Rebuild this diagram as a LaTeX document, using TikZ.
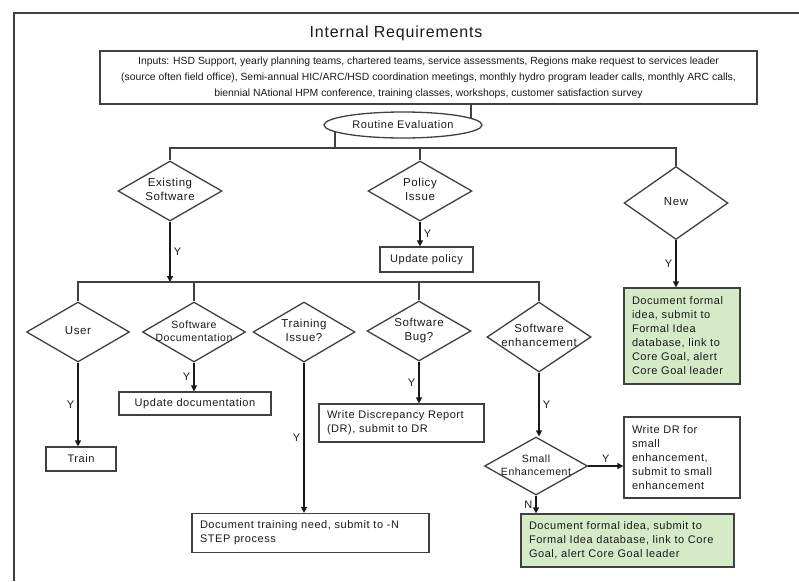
\documentclass[tikz,border=0pt]{standalone}
\usepackage{fontspec}
\setmainfont{Liberation Sans}
\newfontfamily\chartfont[LetterSpace=5]{Liberation Sans}
\usetikzlibrary{shapes.geometric,arrows.meta}
\newcommand{\dtext}[1]{\makebox[0pt]{\begin{tabular}{@{}c@{}}#1\end{tabular}}}

\begin{document}
\begin{tikzpicture}[x=1pt,y=-1pt,line width=1.3pt,draw=black!75,text=black!90,
    every node/.style={font=\chartfont\fontsize{11}{14}\selectfont},
    decision/.style={diamond,draw,inner sep=0pt,minimum width=104pt,minimum height=60pt,
      font=\chartfont\fontsize{11.5}{13.5}\selectfont},
    smalltext/.style={font=\chartfont\fontsize{10.5}{13}\selectfont},
    stepbox/.style={draw,rectangle,inner sep=0pt,align=center},
    notebox/.style={draw,rectangle,inner xsep=8pt,inner ysep=0pt,align=left},
    goalbox/.style={notebox,fill=GoalGreen},
    ylab/.style={inner sep=3pt},
    flow/.style={-{Triangle[length=6pt,width=6pt]},line width=1.6pt,draw=black!90}]
  \definecolor{GoalGreen}{RGB}{213,235,200}
  \useasboundingbox (0,0) rectangle (799,581);
  \draw (14,581) -- (14,13) -- (799,13);

  \node (title) at (396,33) {\fontsize{16}{18}\selectfont Internal Requirements};
  \node[draw,rectangle,minimum width=657pt,minimum height=53pt,inner sep=0pt,align=center,
    font=\fontsize{10.4}{16}\selectfont] (inputs) at (428.5,77.5)
    {Inputs: HSD Support, yearly planning teams, chartered teams, service assessments, Regions make request to services leader\\
     (source often field office), Semi-annual HIC/ARC/HSD coordination meetings, monthly hydro program leader calls, monthly ARC calls,\\
     biennial NAtional HPM conference, training classes, workshops, customer satisfaction survey};
  \node[ellipse,draw,minimum width=158pt,minimum height=26pt,inner sep=0pt] (routine) at (403,125) {Routine Evaluation};

  % first level
  \node[decision] (existing) at (170,191) {\dtext{Existing\\Software}};
  \node[decision] (policy) at (420,191) {\dtext{Policy\\Issue}};
  \node[decision,minimum height=73pt] (new) at (676,203) {\dtext{New}};
  \node[stepbox,minimum width=93pt,minimum height=25pt] (updpolicy) at (426.5,259.5) {Update policy};
  \node[goalbox,text width=100pt,minimum height=96pt] (newidea) at (682,336)
    {Document formal\\idea, submit to\\Formal Idea\\database, link to\\Core Goal, alert\\Core Goal leader};

  % second level
  \node[decision,minimum width=103pt] (user) at (78,332) {\dtext{User}};
  \node[decision,minimum width=103pt,smalltext] (softdoc) at (194,332) {\dtext{Software\\Documentation}};
  \node[decision,minimum width=102pt] (training) at (304,332) {\dtext{Training\\Issue?}};
  \node[decision] (bug) at (419,331) {\dtext{Software\\Bug?}};
  \node[decision,minimum height=70pt] (enhance) at (539,337) {\dtext{Software\\enhancement}};

  \node[stepbox,minimum width=70pt,minimum height=24pt] (train) at (81,459) {Train};
  \node[stepbox,minimum width=152pt,minimum height=23pt] (upddoc) at (195,403.5) {Update documentation};
  \node[notebox,text width=221pt,minimum height=39pt] (trainneed) at (310.5,533)
    {Document training need, submit to -N\\STEP process};
  \node[notebox,text width=149pt,minimum height=38pt] (writedr) at (401.5,423)
    {Write Discrepancy Report\\(DR), submit to DR};
  \node[decision,minimum width=103pt,minimum height=58pt,smalltext] (small) at (536,466) {\dtext{Small\\Enhancement}};
  \node[notebox,text width=100pt,minimum height=81pt] (drsmall) at (682,457.5)
    {Write DR for\\small\\enhancement,\\submit to small\\enhancement};
  \node[goalbox,text width=197pt,minimum height=53pt] (newidea2) at (627.5,540.5)
    {Document formal idea, submit to\\Formal Idea database, link to Core\\Goal, alert Core Goal leader};

  % connectors
  \coordinate (bus1) at (0,148);
  \coordinate (bus2) at (0,282);
  \draw (routine.6) -- (routine.6 |- inputs.south);
  \draw (routine.-174) -- (routine.-174 |- bus1);
  \draw (existing.north) -- (existing.north |- bus1) -- (new.north |- bus1) -- (new.north);
  \draw (policy.north) -- (policy.north |- bus1);
  \draw[flow] (existing.south) -- (existing.south |- bus2) node[ylab,midway,right] (y1) {Y};
  \draw[flow] (policy.south) -- (policy.south |- updpolicy.north) node[ylab,midway,right] (y2) {Y};
  \draw[flow] (new.south) -- (new.south |- newidea.north) node[ylab,midway,left] (y3) {Y};
  \draw (user.north) -- (user.north |- bus2) -- (enhance.north |- bus2) -- (enhance.north);
  \draw (softdoc.north) -- (softdoc.north |- bus2);
  \draw (bug.north) -- (bug.north |- bus2);
  \draw[flow] (user.south) -- (user.south |- train.north) node[ylab,midway,left] (y4) {Y};
  \draw[flow] (softdoc.south) -- (softdoc.south |- upddoc.north) node[ylab,midway,left] (y5) {Y};
  \draw[flow] (training.south) -- (training.south |- trainneed.north) node[ylab,midway,left] (y6) {Y};
  \draw[flow] (bug.south) -- (bug.south |- writedr.north) node[ylab,midway,left] (y7) {Y};
  \draw[flow] (enhance.south) -- (enhance.south |- small.north) node[ylab,midway,right] (y8) {Y};
  \draw[flow] (small.east) -- (small.east -| drsmall.west) node[ylab,midway,above] (y9) {Y};
  \draw[flow] (small.south) -- (small.south |- newidea2.north) node[ylab,midway,left] (n1) {N};
\end{tikzpicture}
\end{document}
